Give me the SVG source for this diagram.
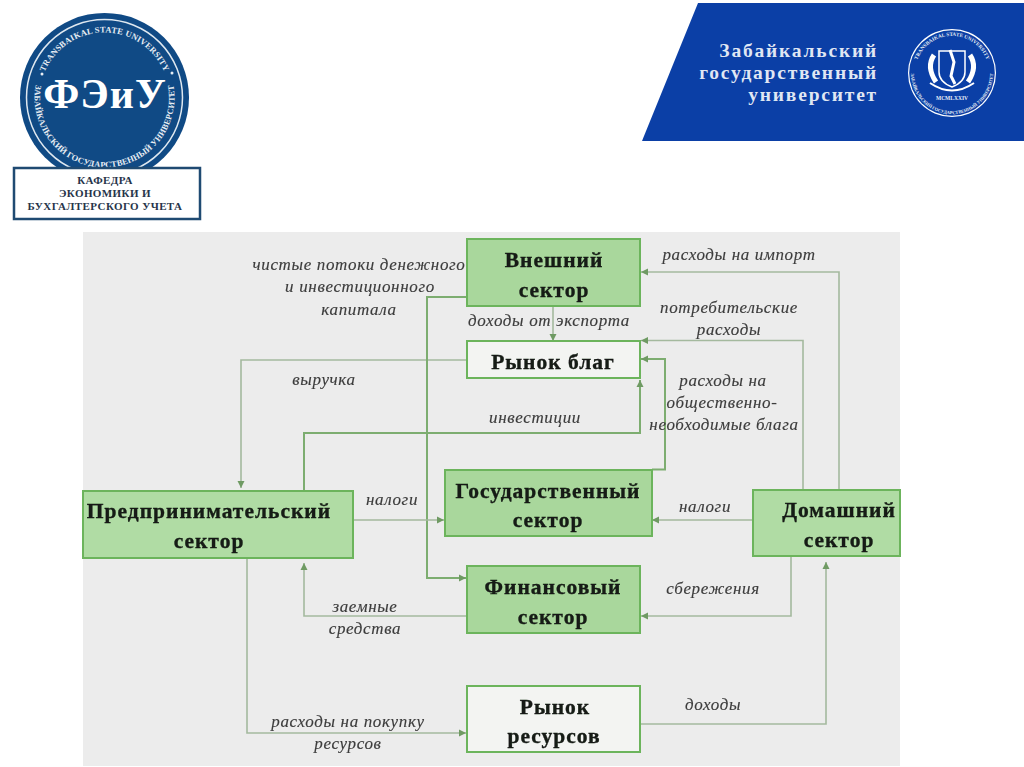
<svg xmlns="http://www.w3.org/2000/svg" xmlns:xlink="http://www.w3.org/1999/xlink" width="1024" height="767" viewBox="0 0 1024 767">
<style>
.box{stroke:#6cb45c;stroke-width:2}
.sec{fill:#a9d79c}
.lite{fill:#b0dca4}
.mkt{fill:#f3f4f2}
.n{font-family:"Liberation Serif",serif;font-weight:bold;font-size:21.500px;fill:#141a14;stroke:#141a14;stroke-width:.35;text-anchor:middle;letter-spacing:1px;filter:url(#shadow)}
.l{font-family:"Liberation Serif",serif;font-style:italic;font-size:17px;fill:#3c3c3c;stroke:#3c3c3c;stroke-width:.15;text-anchor:middle;letter-spacing:.65px;filter:url(#soft)}
.c{fill:none;stroke:#a4b99e;stroke-width:1.6}
.g{fill:none;stroke:#7dad70;stroke-width:2}
.ah{marker-end:url(#arrow)}
.w{font-family:"Liberation Serif",serif;font-weight:bold;fill:#fff}
.s{font-family:"Liberation Serif",serif;font-weight:bold;fill:#26344a;text-anchor:middle;font-size:11px;letter-spacing:.4px}
.ring{font-family:"Liberation Serif",serif;font-weight:bold;fill:#e8eef4;text-anchor:middle}
</style>
<defs>
<filter id="soft" x="-5%" y="-30%" width="110%" height="160%"><feGaussianBlur stdDeviation="0.35"/></filter>
<filter id="shadow" x="-5%" y="-30%" width="110%" height="160%"><feGaussianBlur stdDeviation="0.4"/></filter>
<marker id="arrow" markerUnits="userSpaceOnUse" markerWidth="9" markerHeight="9" refX="8" refY="4.5" orient="auto"><path d="M1 1 L8 4.5 L1 8 Z" fill="#6f9a63"/></marker>
<path id="top1" d="M43.400 75.300 A65 65 0 0 1 165.600 75.300"/>
<path id="bot1" d="M38.700 73.600 A70 70 0 1 0 170.300 73.600"/>
<path id="top2" d="M917.200 60.300 A37 37 0 0 1 986.800 60.300"/>
<path id="bot2" d="M913.500 59 A41 41 0 1 0 990.500 59"/>
</defs>
<rect width="1024" height="767" fill="#fff"/>
<rect id="panel" x="83" y="232" width="817" height="534" fill="#ececec"/>

<g id="logo-left">
<circle cx="104.500" cy="97.500" r="84.500" fill="#104a85"/>
<circle cx="104.500" cy="97.500" r="78" fill="none" stroke="#dfe8f0" stroke-width="1.500"/>
<text class="ring" font-size="8.500" letter-spacing=".2"><textPath xlink:href="#top1" href="#top1" startOffset="50%">TRANSBAIKAL STATE UNIVERSITY</textPath></text>
<text class="ring" font-size="8.500" letter-spacing=".1"><textPath xlink:href="#bot1" href="#bot1" startOffset="50%">ЗАБАЙКАЛЬСКИЙ ГОСУДАРСТВЕННЫЙ УНИВЕРСИТЕТ</textPath></text>
<circle cx="42" cy="74" r="1.500" fill="#e8eef4"/>
<circle cx="172" cy="73" r="1.500" fill="#e8eef4"/>
<text x="105" y="108" class="w" font-size="42" text-anchor="middle" letter-spacing="1">ФЭиУ</text>
<rect x="14" y="168" width="186" height="51" fill="#fff" stroke="#1f4a72" stroke-width="2.500"/>
<text x="105" y="184" class="s">КАФЕДРА</text>
<text x="105" y="197" class="s">ЭКОНОМИКИ И</text>
<text x="105" y="210" class="s">БУХГАЛТЕРСКОГО УЧЕТА</text>
</g>

<g id="logo-right">
<polygon points="698,3 1024,3 1024,141 642,141" fill="#0b3fa6"/>
<g class="w" font-size="19.500" text-anchor="end" letter-spacing="1.800" fill-opacity=".88">
<text x="878" y="57">Забайкальский</text>
<text x="878" y="79">государственный</text>
<text x="878" y="101">университет</text>
</g>
<circle cx="952" cy="73" r="44" fill="#fff"/>
<circle cx="952" cy="73" r="42.800" fill="#0b3fa6"/>
<text class="ring" font-size="5.200"><textPath xlink:href="#top2" href="#top2" startOffset="50%">TRANSBAIKAL STATE UNIVERSITY</textPath></text>
<text class="ring" font-size="4.500"><textPath xlink:href="#bot2" href="#bot2" startOffset="50%">ЗАБАЙКАЛЬСКИЙ ГОСУДАРСТВЕННЫЙ УНИВЕРСИТЕТ</textPath></text>
<path d="M939 51 H965 V72 Q965 82 952 87 Q939 82 939 72 Z" fill="#0b3fa6" stroke="#fff" stroke-width="1.500"/>
<path d="M950 50 L954 62 L951 76 L955 84" fill="none" stroke="#fff" stroke-width="3"/>
<path d="M934 55 Q926 67 936 82 M970 55 Q978 67 968 82" fill="none" stroke="#fff" stroke-width="5"/>
<path d="M930 83 Q952 98 974 83" fill="none" stroke="#fff" stroke-width="2"/>
<text x="952" y="100" font-family="Liberation Serif,serif" font-weight="bold" font-size="5.500" fill="#e8eef8" text-anchor="middle">MCMLXXIV</text>
</g>

<g id="connectors">
<path class="c ah" d="M553 306 V341"/>
<path class="c ah" d="M839 490 V272 H641"/>
<path class="c ah" d="M803 490 V340.500 H641"/>
<path class="g ah" d="M652 469.500 H665 V359 H641"/>
<path class="g ah" d="M304 491 V433 H640 V380"/>
<path class="c ah" d="M466 360 H241 V488"/>
<path class="g ah" d="M466 297 H427 V578 H466"/>
<path class="c ah" d="M354 520 H444"/>
<path class="c ah" d="M752 520 H652"/>
<path class="c ah" d="M466 616 H304 V563"/>
<path class="c ah" d="M791 556 V616 H641"/>
<path class="c ah" d="M247 558 V733 H466"/>
<path class="c ah" d="M640 724 H826 V562"/>
</g>

<g id="node-external"><rect class="box sec" x="467" y="239" width="173" height="67"/><text class="n" x="554" y="267">Внешний</text><text class="n" x="554" y="297">сектор</text></g>
<g id="node-goods"><rect class="box mkt" x="467" y="341" width="173" height="37"/><text class="n" x="553" y="369">Рынок благ</text></g>
<g id="node-state"><rect class="box sec" x="445" y="470" width="207" height="66"/><text class="n" x="548" y="498">Государственный</text><text class="n" x="548" y="527">сектор</text></g>
<g id="node-business"><rect class="box lite" x="83" y="491" width="270" height="67"/><text class="n" x="209" y="518">Предпринимательский</text><text class="n" x="209" y="548">сектор</text></g>
<g id="node-household"><rect class="box lite" x="753" y="490" width="147" height="66"/><text class="n" x="839" y="517">Домашний</text><text class="n" x="839" y="547">сектор</text></g>
<g id="node-finance"><rect class="box sec" x="467" y="566" width="173" height="67"/><text class="n" x="553" y="594">Финансовый</text><text class="n" x="553" y="624">сектор</text></g>
<g id="node-resources"><rect class="box mkt" x="467" y="686" width="173" height="66"/><text class="n" x="555" y="714">Рынок</text><text class="n" x="554" y="743">ресурсов</text></g>

<g id="labels">
<text class="l" x="359" y="270">чистые потоки денежного</text>
<text class="l" x="360" y="292">и инвестиционного</text>
<text class="l" x="359" y="315">капитала</text>
<text class="l" x="549" y="326">доходы от экспорта</text>
<text class="l" x="739" y="260">расходы на импорт</text>
<text class="l" x="729" y="313">потребительские</text>
<text class="l" x="729" y="335">расходы</text>
<text class="l" x="723" y="386">расходы на</text>
<text class="l" x="722" y="408">общественно-</text>
<text class="l" x="724" y="430">необходимые блага</text>
<text class="l" x="324" y="385">выручка</text>
<text class="l" x="535" y="423">инвестиции</text>
<text class="l" x="392" y="505">налоги</text>
<text class="l" x="705" y="512">налоги</text>
<text class="l" x="713" y="594">сбережения</text>
<text class="l" x="365" y="612">заемные</text>
<text class="l" x="365" y="634">средства</text>
<text class="l" x="713" y="710">доходы</text>
<text class="l" x="348" y="727">расходы на покупку</text>
<text class="l" x="348" y="749">ресурсов</text>
</g>
</svg>
